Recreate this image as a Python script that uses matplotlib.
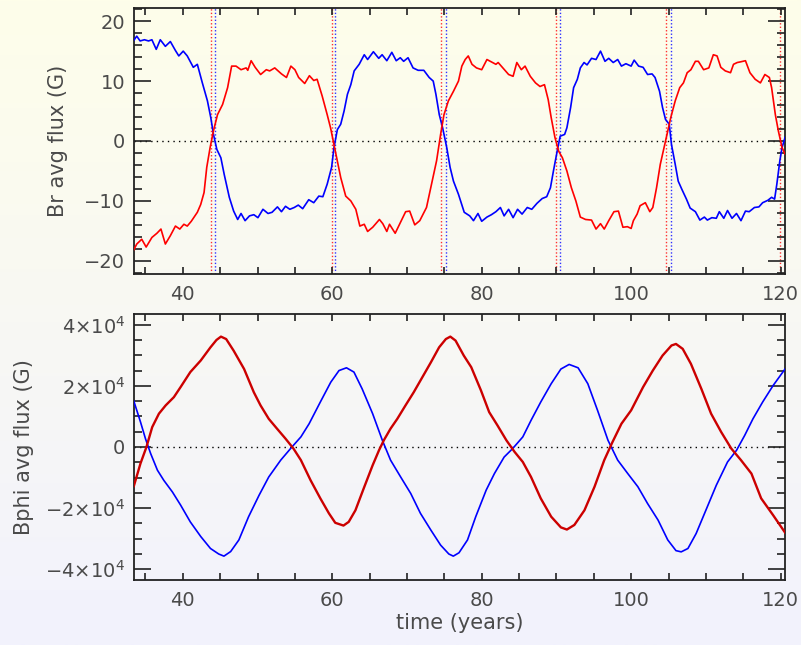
import numpy as np
import matplotlib
matplotlib.use("Agg")
import matplotlib.pyplot as plt
from matplotlib.ticker import MultipleLocator

# ---------------- data ----------------
br_blue_t = [33.38, 33.83, 34.28, 34.86, 35.41, 35.86, 36.44, 36.98, 37.66, 38.33, 39.01, 39.46, 40.05, 40.59,
             41.40, 41.94, 42.61, 43.29, 43.74, 44.10, 44.55, 45.09, 45.54, 46.22, 46.80, 47.34, 47.79, 48.33,
             48.92, 49.50, 50.05, 50.72, 51.40, 51.94, 52.66, 53.20, 53.74, 54.32, 54.91, 55.45,
             56.04, 56.85, 57.52, 58.20, 58.74, 59.32, 59.91, 60.23, 60.68, 61.13, 61.58, 62.03, 62.48, 62.93,
             63.60, 64.28, 64.73, 65.50, 66.22, 66.67, 67.30, 67.97, 68.56, 69.10, 69.55, 70.14, 70.81, 71.49,
             72.25, 72.97, 73.51, 73.87, 74.32, 74.77, 75.32, 75.77, 76.22, 76.89, 77.66,
             78.4, 78.9, 79.5, 80.0, 80.7, 81.3, 81.9, 82.5, 83.0, 83.6, 84.2, 84.8, 85.4, 86.1, 86.7, 87.4,
             88.1, 88.7, 89.2, 89.6, 90.1, 90.5, 91.1, 91.4, 91.9, 92.3, 92.8, 93.2, 93.7, 94.1, 94.7, 95.3,
             95.9, 96.5, 97.0, 97.6, 98.2, 98.7, 99.3, 100.0,
             100.4, 101.0, 101.6, 102.2, 102.8, 103.2, 103.8, 104.2, 104.6, 105.1, 105.4, 105.9, 106.3, 106.8,
             107.4, 107.9, 108.6, 109.2, 109.8, 110.2, 110.8, 111.4, 111.8, 112.4, 112.9, 113.5, 114.1, 114.7,
             115.3, 115.8, 116.5, 117.1, 117.6, 118.3, 118.8, 119.2, 119.5, 119.9, 120.2, 120.6]
br_blue_v = [16.7, 17.5, 16.7, 16.9, 16.7, 16.9, 15.3, 16.9, 15.8, 16.6, 15.1, 14.2, 15.0, 14.2,
             12.3, 12.8, 9.7, 6.7, 3.9, 1.1, -1.4, -2.8, -5.6, -9.4, -11.7, -13.1, -12.1, -13.3,
             -12.5, -12.3, -12.8, -11.4, -12.1, -11.9, -11.0, -11.8, -10.9, -11.4, -11.1, -10.7,
             -11.3, -9.8, -10.3, -9.2, -9.3, -7.2, -4.4, -1.1, 1.9, 2.8, 5.0, 7.8, 9.4, 11.7,
             12.8, 14.4, 13.6, 14.9, 13.8, 14.4, 13.4, 14.8, 13.4, 13.9, 13.3, 13.9, 12.2, 11.8,
             11.8, 10.6, 10.0, 7.8, 4.4, 2.2, -1.1, -4.4, -6.7, -8.9, -11.9,
             -12.5, -13.3, -12.1, -13.4, -12.7, -12.3, -11.8, -11.1, -12.5, -11.4, -12.8, -11.4, -12.2, -11.1,
             -11.4, -10.4, -9.6, -9.3, -7.8, -5.0, -1.7, 0.8, 1.1, 2.2, 5.6, 8.9, 10.3, 12.2, 13.1, 12.7,
             13.8, 13.6, 15.0, 13.3, 13.8, 13.1, 13.6, 12.5, 12.9, 12.5,
             13.5, 12.5, 12.3, 11.1, 11.2, 10.6, 8.3, 5.6, 3.6, 2.8, -0.6, -3.9, -6.7, -8.1,
             -9.7, -11.2, -11.8, -13.2, -12.7, -13.2, -12.8, -12.9, -11.8, -12.9, -11.6, -12.9, -12.1, -13.3,
             -11.7, -11.8, -11.1, -11.0, -10.3, -9.9, -9.4, -9.7, -7.2, -3.3, -1.1, 0.6]

br_red_t = [33.38, 33.83, 34.50, 35.09, 35.86, 36.53, 37.07, 37.66, 38.33, 39.01, 39.59, 40.14, 40.59, 41.13,
            41.94, 42.39, 42.84, 43.20, 43.65, 44.10, 44.64, 45.32, 45.99, 46.53, 47.12, 47.79, 48.47, 48.69,
            49.14, 49.68, 50.41, 51.17, 51.62, 52.30, 53.20, 53.87, 54.46, 55.00, 55.50,
            56.31, 56.94, 57.52, 57.97, 58.65, 59.32, 59.77, 60.23, 60.68, 61.13, 61.80, 62.48, 63.15, 63.69,
            64.28, 64.73, 65.41, 66.31, 66.76, 67.30, 67.66, 68.42, 69.01, 69.82, 70.36, 71.04, 71.71, 72.61,
            73.29, 73.96, 74.50, 74.95, 75.54, 76.22, 76.89, 77.34, 77.79,
            78.2, 78.7, 79.3, 80.0, 80.7, 81.3, 81.9, 82.2, 82.9, 83.6, 84.2, 84.7, 85.3, 85.8, 86.5, 87.2,
            87.8, 88.4, 88.9, 89.3, 89.8, 90.3, 90.8, 91.4, 92.0, 92.6, 93.2, 93.9, 94.7, 95.3, 95.9, 96.4,
            97.0, 97.7, 98.3, 98.9, 99.5, 100.0,
            100.3, 100.8, 101.2, 101.9, 102.5, 102.9, 103.4, 103.9, 104.3, 104.8, 105.3, 105.9, 106.5, 107.0,
            107.5, 108.0, 108.6, 109.0, 109.7, 110.4, 111.0, 111.5, 112.0, 112.6, 113.3, 113.7, 114.2, 114.6,
            115.3, 115.9, 116.6, 117.3, 117.9, 118.5, 118.8, 119.3, 119.7, 120.2, 120.6]
br_red_v = [-18.3, -17.2, -16.4, -17.7, -16.1, -15.4, -14.7, -17.2, -15.8, -14.2, -14.7, -13.9, -14.2, -13.4,
            -11.9, -10.6, -8.6, -4.4, -1.1, 1.7, 4.4, 6.1, 8.9, 12.5, 12.5, 11.9, 12.2, 11.8,
            13.4, 12.3, 11.1, 11.9, 11.7, 12.2, 11.2, 10.6, 12.5, 11.9, 10.6,
            9.6, 10.9, 10.1, 10.3, 7.5, 4.4, 2.2, -0.6, -3.3, -6.1, -9.2, -10.0, -11.4, -14.2,
            -13.9, -15.1, -14.4, -13.1, -13.8, -15.1, -13.9, -15.4, -13.9, -11.8, -11.7, -14.0, -13.3, -11.1,
            -7.2, -3.3, 1.1, 4.4, 6.7, 8.3, 10.0, 12.5, 13.6,
            14.2, 12.8, 12.2, 11.9, 13.6, 13.2, 12.8, 13.1, 12.1, 11.1, 10.8, 13.1, 11.9, 12.5, 10.8, 9.7,
            9.1, 9.4, 6.9, 3.9, 0.6, -1.7, -2.8, -5.0, -7.8, -10.0, -12.7, -13.1, -13.2, -14.7, -13.8, -14.7,
            -13.3, -11.8, -11.7, -14.4, -14.3, -14.6,
            -13.3, -12.2, -10.8, -10.3, -11.8, -11.1, -7.8, -3.9, -1.7, 1.1, 3.9, 6.7, 8.9, 9.7,
            11.4, 11.9, 13.3, 13.3, 11.9, 12.2, 14.4, 14.2, 12.3, 11.7, 11.4, 12.8, 13.1, 13.2,
            13.4, 11.4, 10.3, 9.7, 11.1, 10.6, 8.9, 4.4, 1.7, -1.1, -2.2]

# zero-crossing markers (top panel)
red_cross = [43.8, 60.0, 74.5, 89.95, 104.7, 119.9]
blue_cross = [44.3, 60.4, 75.2, 90.5, 105.4]

bphi_red_t = [33.44, 34.33, 35.13, 35.9, 36.8, 37.7, 38.8, 39.7, 41.0, 42.4, 43.7, 44.5, 45.1, 45.8, 46.8,
              48.2, 49.5, 50.4, 51.5, 52.6, 53.75, 54.8, 55.8, 57.1, 58.4, 59.55, 60.4, 61.5, 62.2, 63.1,
              64.2, 65.4, 66.25, 66.9, 67.8, 68.7, 69.8, 70.9, 72.05, 73.2, 74.3, 75.2, 75.8, 76.5, 77.6,
              78.6, 79.9, 81.0, 82.1, 83.3, 84.4, 85.5, 86.6, 87.9, 89.3, 90.6, 91.4, 92.4, 93.75, 95.1,
              96.4, 97.5, 98.7, 100.0, 101.6, 102.9, 104.2, 105.4, 106.0, 106.9, 108.0, 109.4, 110.7, 112.05,
              113.4, 114.7, 116.1, 117.4, 119.0, 120.6]
bphi_red_v = [-12800, -5400, 0, 6500, 10900, 13600, 16300, 19600, 24500, 28300, 32600, 35000, 36100, 35300, 31500,
              25500, 17900, 13600, 9200, 6000, 2700, -500, -4300, -10900, -16800, -21700, -24800, -25700, -24500, -20700,
              -13600, -6000, -1100, 2200, 6000, 9200, 13600, 17900, 22800, 27700, 32600, 35300, 36100, 34800, 29900,
              26100, 18500, 11400, 7100, 2200, -1600, -4900, -9800, -16800, -22800, -26300, -27000, -25500, -20700, -13000,
              -4300, 1600, 7600, 12000, 19600, 25000, 29900, 33200, 33700, 32100, 27200, 19000, 10900, 4900,
              -500, -4300, -8700, -16800, -22300, -28000]

bphi_blue_t = [33.44, 34.33, 35.0, 35.7, 36.6, 37.45, 38.6, 39.7, 41.0, 42.4, 43.7, 44.8, 45.5, 46.4, 47.5,
               48.8, 50.2, 51.5, 53.1, 54.6, 55.8, 56.9, 58.4, 59.8, 60.9, 61.9, 62.9, 64.0, 65.4, 66.7,
               67.8, 69.15, 70.5, 71.8, 73.2, 74.5, 75.6, 76.2, 76.96, 78.1, 79.2, 80.6, 81.7, 83.0, 84.15,
               85.5, 86.6, 87.9, 89.3, 90.6, 91.7, 92.9, 94.2, 95.5, 96.9, 98.2, 99.55, 100.9, 102.2, 103.6,
               104.9, 106.0, 106.7, 107.6, 108.7, 110.0, 111.4, 112.9, 114.1, 115.2, 116.3, 117.6, 119.0, 120.6]
bphi_blue_v = [15000, 8200, 2700, -2200, -7600, -10900, -14700, -19000, -24500, -29300, -33200, -35000, -35700, -34200, -30400,
               -22800, -15800, -9800, -4300, 0, 3300, 7600, 14700, 21200, 25000, 25900, 24500, 19000, 10900, 2200,
               -4300, -9800, -15200, -21700, -27200, -32100, -35000, -35700, -34600, -30400, -22800, -14100, -8700, -3300, -500,
               3300, 8700, 14700, 20700, 25500, 27000, 25900, 20700, 12000, 2200, -4300, -8700, -13000, -18500, -23900,
               -30400, -33900, -34300, -33200, -28300, -20700, -12500, -4900, -1100, 3800, 9200, 14700, 20100, 25500]

x_ticks = [40, 60, 80, 100, 120]
br_yticks = [-20, -10, 0, 10, 20]
br_ylabels = ["\u221220", "\u221210", "0", "10", "20"]
bphi_yticks = [-40000, -20000, 0, 20000, 40000]
bphi_ylabels = ["\u22124\u00d710$^{4}$", "\u22122\u00d710$^{4}$", "0", "2\u00d710$^{4}$", "4\u00d710$^{4}$"]

# ---------------- figure ----------------
plt.rcParams['font.family'] = ['DejaVu Sans']
plt.rcParams['mathtext.default'] = 'regular'
fig = plt.figure(figsize=(8.01, 6.45), dpi=100)

# background gradient
bg = fig.add_axes([0, 0, 1, 1], zorder=-10)
top_c = np.array([254, 254, 234]) / 255.0
bot_c = np.array([242, 242, 253]) / 255.0
f = np.linspace(0, 1, 256)[:, None]
grad = (top_c[None, :] * (1 - f) + bot_c[None, :] * f)[:, None, :]
bg.imshow(grad, aspect='auto', extent=[0, 1, 0, 1], origin='upper')
bg.set_axis_off()

txt_col = '#4a4a4a'
ax1 = fig.add_axes([0.1667, 0.5752, 0.8134, 0.4124])
ax2 = fig.add_axes([0.1667, 0.1008, 0.8134, 0.4124])

for ax in (ax1, ax2):
    ax.patch.set_alpha(0)
    ax.set_xlim(33.4, 120.6)
    ax.set_xticks(x_ticks)
    ax.xaxis.set_minor_locator(MultipleLocator(5))
    ax.tick_params(axis='both', which='both', direction='in', top=True, right=True,
                   colors='#222222', labelcolor=txt_col, labelsize=14, width=1.2)
    ax.tick_params(axis='x', which='both', length=5, pad=8)
    ax.tick_params(axis='y', which='major', length=12, pad=6)
    ax.tick_params(axis='y', which='minor', length=6)
    for s in ax.spines.values():
        s.set_linewidth(1.3)
        s.set_color('#222222')
    ax.axhline(0, color='black', lw=1.0, ls=(0, (1, 3)), zorder=1)

# top panel
ax1.set_ylim(-22.2, 22.2)
ax1.set_yticks(br_yticks)
ax1.set_yticklabels(br_ylabels)
ax1.yaxis.set_minor_locator(MultipleLocator(2))
for xc in red_cross:
    ax1.axvline(xc, color='#ff3030', lw=1.0, ls=(0, (1, 1.5)), zorder=1)
for xc in blue_cross:
    ax1.axvline(xc, color='#3030ff', lw=1.0, ls=(0, (1, 1.5)), zorder=1)
ax1.plot(br_blue_t, br_blue_v, color='#0000ff', lw=1.2, zorder=3, solid_joinstyle='round')
ax1.plot(br_red_t, br_red_v, color='#ff0000', lw=1.2, zorder=3, solid_joinstyle='round')
ax1.set_ylabel('Br avg flux (G)', fontsize=15, color=txt_col, labelpad=12)

# bottom panel
ax2.set_ylim(-43500, 43500)
ax2.set_yticks(bphi_yticks)
ax2.set_yticklabels(bphi_ylabels)
ax2.yaxis.set_minor_locator(MultipleLocator(5000))
ax2.plot(bphi_blue_t, bphi_blue_v, color='#0000ff', lw=1.2, zorder=3, solid_joinstyle='round')
ax2.plot(bphi_red_t, bphi_red_v, color='#cc0000', lw=1.7, zorder=3, solid_joinstyle='round')
ax2.set_ylabel('Bphi avg flux (G)', fontsize=15, color=txt_col, labelpad=8)
ax2.set_xlabel('time (years)', fontsize=15, color=txt_col, labelpad=2)

fig.savefig('out.png', dpi=100)
